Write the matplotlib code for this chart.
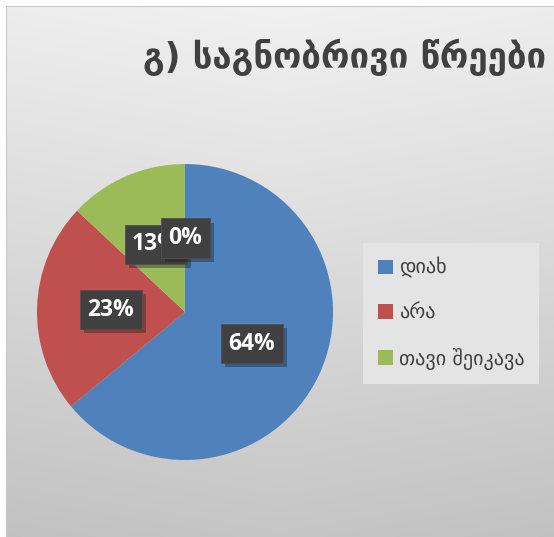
import numpy as np
import matplotlib
matplotlib.use("Agg")
import matplotlib.pyplot as plt
import matplotlib.patheffects as pe

# data
labels = ['დიახ', 'არა', 'თავი შეიკავა', '']
values = [64, 23, 13, 0]
colors = ['#4f81bd', '#c0504d', '#9bbb59', '#8064a2']
title = 'გ) საგნობრივი წრეები'

W, H = 554, 537
fig = plt.figure(figsize=(W / 100, H / 100), dpi=100)
fig.patch.set_facecolor('white')

# gradient background of the chart area
bg = fig.add_axes([6 / W, 0, 1 - 6 / W, 1 - 6 / H])
yy, xx = np.mgrid[0:1:200j, 0:1:200j]
grad = 0.945 - 0.17 * yy - 0.03 * np.abs(xx - 0.5)
bg.imshow(np.dstack([grad] * 3), aspect='auto', extent=[0, 1, 0, 1], origin='upper')
bg.set_xticks([]), bg.set_yticks([])
for s in bg.spines.values():
    s.set_color('#c8c8c8')
bg.spines['right'].set_visible(False)
bg.spines['bottom'].set_visible(False)

# pie
cx, cy, r = 185, 312, 148
ax = fig.add_axes([(cx - r) / W, (H - cy - r) / H, 2 * r / W, 2 * r / H])
wedges, texts, autotexts = ax.pie(values, colors=colors, startangle=90, counterclock=False,
                                  autopct='%1.0f%%', pctdistance=0.5,
                                  textprops=dict(color='white', fontsize=16.5, fontweight='bold',
                                                 family='Open Sans'))
ax.set_xlim(-1, 1), ax.set_ylim(-1, 1)
for i, t in enumerate(autotexts):
    t.set_bbox(dict(boxstyle='square,pad=0.33', facecolor='#404040', edgecolor='#505050', lw=0.6))
    t.get_bbox_patch().set_path_effects([pe.SimplePatchShadow(offset=(3, -3), alpha=0.35), pe.Normal()])
    t.set_zorder(5 + i)

leg = fig.legend(wedges[:3], labels[:3], loc='upper left', bbox_to_anchor=(363 / W, 1 - 243 / H),
                 frameon=True, fancybox=False, handlelength=0.75, handleheight=0.75,
                 handletextpad=0.3, labelspacing=1.25, borderpad=0.72, borderaxespad=0,
                 prop=dict(family='DejaVu Sans', size=14.5))
leg.get_frame().set_facecolor('#e4e4e4')
leg.get_frame().set_edgecolor('none')
leg.get_frame().set_alpha(1)
for t in leg.get_texts():
    t.set_color('#404040')

fig.text(546 / W, 1 - 57 / H, title, ha='right', va='center', fontsize=25, fontweight='bold',
         color='#404040', family='DejaVu Sans')

fig.savefig('out.png', dpi=100)
